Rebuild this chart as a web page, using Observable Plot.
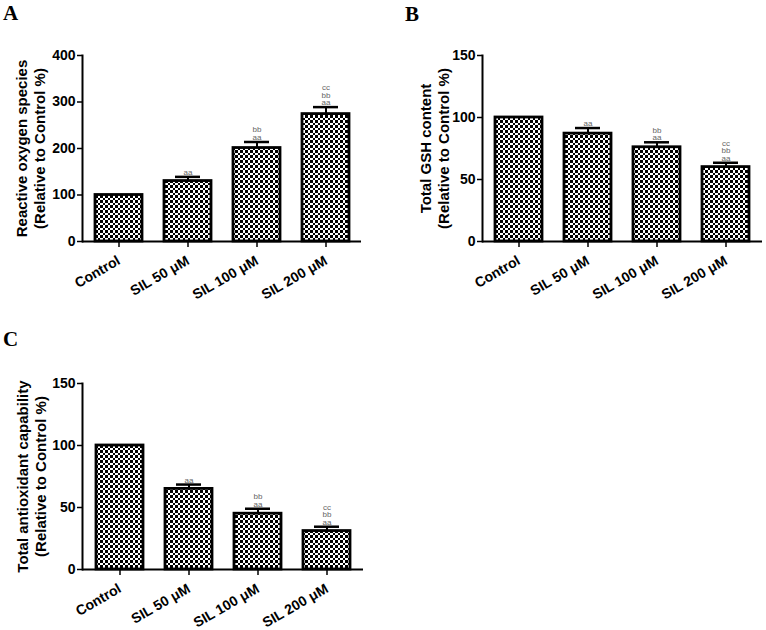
<!DOCTYPE html>
<html><head><meta charset="utf-8">
<script src="https://cdn.jsdelivr.net/npm/d3@7"></script>
<script src="https://cdn.jsdelivr.net/npm/@observablehq/plot@0.6"></script>
<style>
body{margin:0;background:#fff;width:766px;height:630px;position:relative;overflow:hidden;font-family:"Liberation Sans",Arial,sans-serif}
.panel{position:absolute}
.letter{position:absolute;z-index:5;font-family:"Liberation Serif","Times New Roman",serif;font-weight:bold;font-size:21px;line-height:21px}
</style></head><body>
<div id="pA" class="panel" style="left:0;top:0"></div>
<div id="pB" class="panel" style="left:400px;top:0"></div>
<div id="pC" class="panel" style="left:0;top:320px"></div>
<div class="letter" style="left:3px;top:3px">A</div>
<div class="letter" style="left:405px;top:4px">B</div>
<div class="letter" style="left:3px;top:329px">C</div>
<script>
const groups = ["Control", "SIL 50 μM", "SIL 100 μM", "SIL 200 μM"];
const sigLabels = ["", "aa", "bb\naa", "cc\nbb\naa"];

const rosMean = [100, 130, 201, 274];
const rosErr = [0, 9, 13, 15];
const rosTicks = [0, 100, 200, 300, 400];

const gshMean = [100, 87, 76, 60];
const gshErr = [0, 4.5, 4, 3.5];
const gshTicks = [0, 50, 100, 150];

const taocMean = [100, 65, 45, 31];
const taocErr = [0, 3.5, 4, 3.5];
const taocTicks = [0, 50, 100, 150];

function panel(cfg) {
  const rows = groups.map((g, i) => ({g, m: cfg.mean[i], e: cfg.err[i], top: cfg.mean[i] + cfg.err[i], s: sigLabels[i]}));
  const withErr = rows.filter(d => d.e > 0);
  const pid = "chk-" + cfg.id;
  const svg = Plot.plot({
    width: cfg.width, height: cfg.height,
    marginLeft: cfg.ml, marginRight: cfg.mr, marginTop: cfg.mt, marginBottom: cfg.mb,
    style: {fontFamily: "'Liberation Sans', Arial, sans-serif", color: "black", background: "transparent", overflow: "visible"},
    x: {domain: groups, paddingInner: 0.32, paddingOuter: 0.17},
    y: {domain: cfg.domain},
    marks: [
      Plot.barY(rows, {x: "g", y: "m", fill: `url(#${pid})`, stroke: "black", strokeWidth: 2.8}),
      Plot.ruleX(withErr, {x: "g", y1: "m", y2: "top", stroke: "black", strokeWidth: 2}),
      Plot.tickY(withErr, {x: "g", y: "top", stroke: "black", strokeWidth: 2.5, insetLeft: 11, insetRight: 11}),
      Plot.text(rows, {x: "g", y: "top", text: "s", lineAnchor: "bottom", dy: -2, fontSize: 8, lineHeight: 0.95, fill: "#666"}),
      Plot.frame({anchor: "left", stroke: "black", strokeWidth: 2}),
      Plot.ruleY([0], {stroke: "black", strokeWidth: 2}),
      Plot.axisY({ticks: cfg.ticks, tickSize: 5, tickPadding: 2, tickFormat: d => d, fontSize: 14, fontWeight: "bold", label: null, strokeWidth: 1.5}),
      Plot.axisX({tickSize: 6, tickPadding: 12, tickRotate: -30, fontSize: 14, fontWeight: "bold", label: null, strokeWidth: 1.5}),
      Plot.text([cfg.label], {frameAnchor: "left", dx: cfg.dxLabel, rotate: -90, textAnchor: "middle", text: d => d, fontSize: 15, fontWeight: "bold", lineHeight: 1.2, fill: "black"})
    ]
  });
  const defs = d3.select(svg).insert("defs", ":first-child");
  const s = 5, h = 2.5;
  const p = defs.append("pattern").attr("id", pid).attr("patternUnits", "userSpaceOnUse").attr("width", s).attr("height", s);
  p.append("rect").attr("width", s).attr("height", s).attr("fill", "white");
  p.append("rect").attr("width", h).attr("height", h).attr("fill", "black").attr("shape-rendering", "crispEdges");
  p.append("rect").attr("x", h).attr("y", h).attr("width", h).attr("height", h).attr("fill", "black").attr("shape-rendering", "crispEdges");
  document.getElementById(cfg.el).appendChild(svg);
}

panel({id: "a", el: "pA", mean: rosMean, err: rosErr, domain: [0, 400], ticks: rosTicks,
  label: "Reactive oxygen species\n(Relative to Control %)", width: 380, height: 320, ml: 82, mr: 19, mt: 55, mb: 79, dxLabel: -52});
panel({id: "b", el: "pB", mean: gshMean, err: gshErr, domain: [0, 150], ticks: gshTicks,
  label: "Total GSH content\n(Relative to Control %)", width: 366, height: 320, ml: 82, mr: 4, mt: 55, mb: 79, dxLabel: -48});
panel({id: "c", el: "pC", mean: taocMean, err: taocErr, domain: [0, 150], ticks: taocTicks,
  label: "Total antioxidant capability\n(Relative to Control %)", width: 380, height: 310, ml: 82, mr: 17, mt: 63, mb: 61, dxLabel: -51});
</script>
</body></html>
